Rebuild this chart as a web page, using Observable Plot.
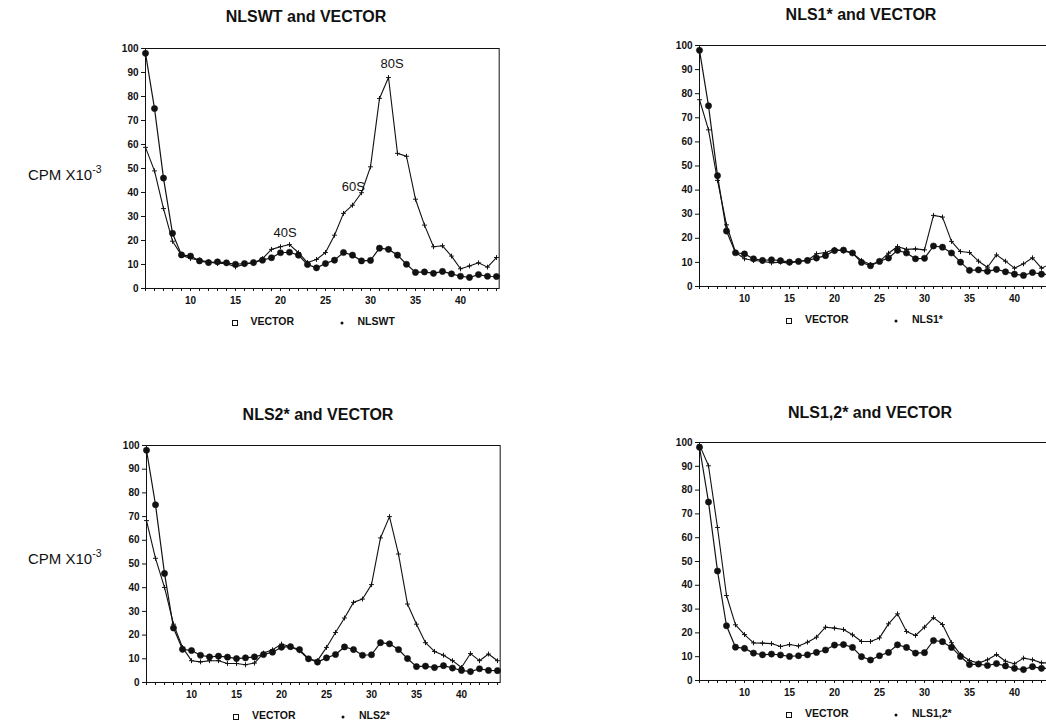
<!DOCTYPE html>
<html><head><meta charset="utf-8">
<script src="https://cdn.jsdelivr.net/npm/d3@7"></script>
<script src="https://cdn.jsdelivr.net/npm/@observablehq/plot@0.6"></script>
<style>
html,body{margin:0;padding:0;background:#fff;}
body{width:1046px;height:721px;overflow:hidden;position:relative;font-family:"Liberation Sans",Arial,Helvetica,sans-serif;color:#111;}
.abs{position:absolute;white-space:nowrap;}
.title{font-size:16px;font-weight:bold;transform:translate(-50%,-50%);}
.cpm{font-size:15px;transform:translateY(-50%);}
.cpm sup{font-size:10.5px;position:relative;top:-1px;}
.leg{font-size:10.5px;font-weight:bold;transform:translateY(-50%);}
.sq{position:absolute;width:4px;height:4px;border:1.2px solid #111;transform:translate(-50%,-50%);}
.pl{position:absolute;width:3px;height:3px;background:#111;border-radius:50%;transform:translate(-50%,-50%);}
</style></head><body>
<script>
// ---- data ----
const fractions = [5,6,7,8,9,10,11,12,13,14,15,16,17,18,19,20,21,22,23,24,25,26,27,28,29,30,31,32,33,34,35,36,37,38,39,40,41,42,43,44];
const vector = [98,75,46,23,14,13.5,11.5,10.8,11.1,10.7,10.1,10.4,10.8,11.8,12.8,14.9,15.1,13.9,10,8.6,10.4,11.8,15,13.9,11.5,11.7,16.8,16.3,13.9,10.1,6.7,6.9,6.3,7.1,6.1,5.1,4.6,5.8,5.1,5];
const nlswt = [58.8,49,33.3,19.7,13.9,12.5,11.8,11.1,10.4,10.4,9,10.1,10.7,12.4,16.3,17.4,18.3,14.9,10.8,12.1,15,22.2,31.3,34.7,39.9,50.7,79.2,87.9,56.3,55.1,37.2,26.4,17.4,17.8,13.5,8.2,9.4,10.7,8.9,12.9];
const nls1 = [77.5,65,44,25.6,14.2,11.5,10.8,10.5,9.8,10.1,9.7,10.5,10.8,13.6,14.1,15.4,14.7,13.8,10.8,9.1,10.4,13.8,16.6,15.4,15.6,15.2,29.5,28.8,18.7,14.5,14.1,10.5,8,13.1,10.5,7.6,9.4,11.9,7.6,9.4];
const nls2 = [68.3,52.4,40.1,24.6,14.8,9.2,8.7,9.2,9.2,8,8,7.5,8.2,12.4,13.8,16.2,15.1,13.4,9.9,9.2,14.8,21.1,27.2,33.8,35.2,41.3,61,70,54.2,33.1,24.6,16.8,13.1,11.5,9.2,6.3,12.2,9.2,12,9.2];
const nls12 = [99,90.2,64.3,35.7,23.4,19.3,15.8,15.7,15.5,14.3,15.1,14.5,16.1,18.2,22.4,22,21.4,19.2,16.4,16.4,17.9,23.8,28,20.6,18.9,22.4,26.4,23.5,15.9,10.9,8.4,7.3,8.7,10.9,8.1,7,9.4,8.7,7.4,7.4];
const seriesNames = ["NLSWT","NLS1*","NLS2*","NLS1,2*"];
const seriesValues = [nlswt, nls1, nls2, nls12];
const titles = ["NLSWT and VECTOR","NLS1* and VECTOR","NLS2* and VECTOR","NLS1,2* and VECTOR"];
const yTicks = [0,10,20,30,40,50,60,70,80,90,100];
const xTickLabels = [10,15,20,25,30,35,40];
const peakLabels = ["40S","60S","80S"];
const peakX = [20.5,28.1,32.4];
const peakY = [23,42.5,93.8];

// ---- layout (pixels) ----
const ML = 40, MR = 4, MT = 8, MB = 30, PXU = 9, XMAX = 44.3;
const layout = [
  {fx:144.5, fy:48,  h:240, tx:306, ty:17},
  {fx:699,   fy:45,  h:241, tx:861, ty:15},
  {fx:146,   fy:445, h:237, tx:318, ty:415},
  {fx:699,   fy:442, h:238, tx:870, ty:413}
];

function addAbs(html, cls, x, y){
  const d = document.createElement("div");
  d.className = "abs " + cls;
  d.style.left = x + "px"; d.style.top = y + "px";
  d.innerHTML = html;
  document.body.appendChild(d);
  return d;
}

layout.forEach((L, p) => {
  const vecData = fractions.map((f,i)=>({f, v: vector[i]}));
  const nlsData = fractions.map((f,i)=>({f, v: seriesValues[p][i]}));
  const W = (XMAX - 5) * PXU;
  const marks = [
    Plot.axisX({ticks: fractions, tickSize: 3, tickFormat: () => "", label: null, strokeWidth: 1}),
    Plot.axisX({ticks: xTickLabels, tickSize: 0, tickPadding: 8, label: null, fontWeight: "bold", fontSize: 10}),
    Plot.axisY({ticks: yTicks, tickSize: 4, tickPadding: 3, label: null, fontWeight: "bold", fontSize: 10}),
    Plot.frame({stroke: "#111", strokeWidth: 1}),
    Plot.line(nlsData, {x: "f", y: "v", stroke: "#111", strokeWidth: 1.1}),
    Plot.line(vecData, {x: "f", y: "v", stroke: "#111", strokeWidth: 1.2}),
    Plot.dot(nlsData, {x: "f", y: "v", symbol: "plus", r: 1.7, stroke: "#111", strokeWidth: 1}),
    Plot.dot(vecData, {x: "f", y: "v", r: 3.1, fill: "#111", stroke: "#111", strokeWidth: 0.6})
  ];
  if (p === 0) {
    marks.push(Plot.text(peakLabels, {x: (d,i)=>peakX[i], y: (d,i)=>peakY[i], text: d=>d, fontSize: 13, fill: "#111"}));
  }
  const chart = Plot.plot({
    width: ML + W + MR, height: MT + L.h + MB,
    marginLeft: ML, marginRight: MR, marginTop: MT, marginBottom: MB,
    style: {fontFamily: "'Liberation Sans', Arial, sans-serif", color: "#111", background: "transparent", overflow: "visible"},
    x: {domain: [5, XMAX]},
    y: {domain: [0, 100]},
    marks
  });
  chart.style.position = "absolute";
  chart.style.left = (L.fx - ML) + "px";
  chart.style.top = (L.fy - MT) + "px";
  document.body.appendChild(chart);

  addAbs(titles[p], "title", L.tx, L.ty);
  const ly = L.fy + L.h + 33;
  const sq = document.createElement("div"); sq.className = "sq";
  sq.style.left = (L.fx + 90) + "px"; sq.style.top = (ly + 2) + "px"; document.body.appendChild(sq);
  addAbs("VECTOR", "leg", L.fx + 106, ly);
  const pl = document.createElement("div"); pl.className = "pl";
  pl.style.left = (L.fx + 197) + "px"; pl.style.top = (ly + 2) + "px"; document.body.appendChild(pl);
  addAbs(seriesNames[p], "leg", L.fx + 213, ly);
});

addAbs("CPM X10<sup>-3</sup>", "cpm", 28, 173);
addAbs("CPM X10<sup>-3</sup>", "cpm", 28, 557);
</script>
</body></html>
